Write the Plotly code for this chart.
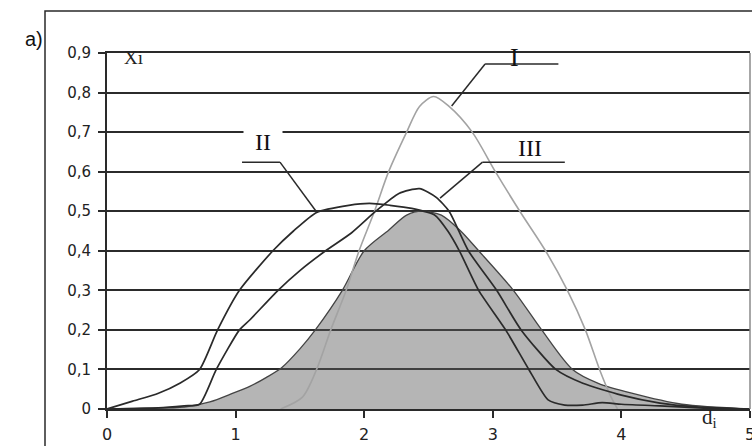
import plotly.graph_objects as go

# ---- data ----
x_ticks = [0, 1, 2, 3, 4, 5]
y_ticks = [0, 0.1, 0.2, 0.3, 0.4, 0.5, 0.6, 0.7, 0.8, 0.9]
y_ticktext = ["0", "0,1", "0,2", "0,3", "0,4", "0,5", "0,6", "0,7", "0,8", "0,9"]

fill_x = [0, 0.3, 0.6, 0.8, 0.98, 1.11, 1.24, 1.36, 1.5, 1.62, 1.83, 2.0, 2.19, 2.33, 2.45,
          2.6, 2.75, 2.89, 3.16, 3.38, 3.62, 3.82, 4.08, 4.47, 5.0]
fill_y = [0, 0.002, 0.005, 0.018, 0.04, 0.057, 0.08, 0.105, 0.152, 0.2, 0.3, 0.4, 0.452, 0.49, 0.50,
          0.49, 0.45, 0.40, 0.30, 0.20, 0.10, 0.065, 0.04, 0.012, 0]

c1_x = [1.35, 1.52, 1.63, 1.74, 1.86, 1.96, 2.08, 2.19, 2.33, 2.43, 2.54, 2.66, 2.84, 3.02, 3.21,
        3.41, 3.58, 3.72, 3.83, 3.92, 3.97]
c1_y = [0, 0.03, 0.1, 0.2, 0.3, 0.4, 0.5, 0.6, 0.7, 0.765, 0.79, 0.765, 0.7, 0.6, 0.5,
        0.40, 0.30, 0.2, 0.1, 0.03, 0]

c2_x = [0, 0.2, 0.4, 0.57, 0.72, 0.86, 1.03, 1.29, 1.45, 1.63, 1.88, 2.04, 2.2, 2.37, 2.55,
        2.65, 2.74, 2.89, 3.10, 3.28, 3.43, 3.56, 3.7, 3.85, 4.0, 4.3, 4.6, 5.0]
c2_y = [0, 0.02, 0.04, 0.066, 0.1, 0.2, 0.3, 0.4, 0.45, 0.497, 0.515, 0.52, 0.515, 0.507, 0.49,
        0.45, 0.40, 0.30, 0.20, 0.10, 0.023, 0.01, 0.01, 0.016, 0.012, 0.008, 0.003, 0]

c3_x = [0, 0.4, 0.6, 0.72, 0.85, 1.03, 1.11, 1.33, 1.5, 1.70, 1.9, 2.09, 2.27, 2.43, 2.56,
        2.66, 2.81, 3.03, 3.22, 3.49, 3.7, 4.0, 4.3, 4.6, 5.0]
c3_y = [0, 0.003, 0.008, 0.012, 0.1, 0.2, 0.225, 0.3, 0.35, 0.40, 0.445, 0.50, 0.545, 0.557, 0.535,
        0.50, 0.40, 0.30, 0.20, 0.10, 0.065, 0.035, 0.015, 0.005, 0]

DARK = "#2a2a2a"

fig = go.Figure()
fig.add_trace(go.Scatter(x=fill_x, y=fill_y, mode="lines", fill="tozeroy",
                         fillcolor="rgba(90,90,90,0.45)",
                         line=dict(color="#444444", width=1.3, shape="spline", smoothing=0.8)))
fig.add_trace(go.Scatter(x=c1_x, y=c1_y, mode="lines",
                         line=dict(color="#a3a3a3", width=1.6, shape="spline", smoothing=0.8)))
fig.add_trace(go.Scatter(x=c2_x, y=c2_y, mode="lines",
                         line=dict(color=DARK, width=1.7, shape="spline", smoothing=0.6)))
fig.add_trace(go.Scatter(x=c3_x, y=c3_y, mode="lines",
                         line=dict(color=DARK, width=1.7, shape="spline", smoothing=0.6)))

L, R, T, B = 107, 2, 53, 37
W, H = 752, 446
PW, PH = W - L - R, H - T - B


def px(xp):
    return (xp - L) / PW


def py(yp):
    return (H - B - yp) / PH


def dy(yp):
    return (H - B - yp) / PH * 0.9


fig.update_layout(
    width=W, height=H, margin=dict(l=L, r=R, t=T, b=B, autoexpand=False),
    plot_bgcolor="white", paper_bgcolor="white", showlegend=False,
    xaxis=dict(range=[0, 5], tickvals=x_ticks, ticks="outside", ticklen=7, tickwidth=1.5,
               tickcolor=DARK, showline=True, linecolor=DARK, linewidth=2, mirror=True,
               showgrid=False, zeroline=False, ticklabelstandoff=3, automargin=False,
               ticklabeloverflow="allow",
               tickfont=dict(family="DejaVu Sans", size=16, color="#222")),
    yaxis=dict(range=[0, 0.9], tickvals=y_ticks, ticktext=y_ticktext, ticks="outside",
               ticklen=7, tickwidth=1.5, tickcolor=DARK, showline=True, linecolor=DARK,
               linewidth=2, showgrid=True, gridcolor="#2b2b2b", gridwidth=2, zeroline=False,
               ticklabelstandoff=4, automargin=False,
               tickfont=dict(family="DejaVu Sans", size=15, color="#222")),
)

shapes = [
    dict(type="line", xref="paper", yref="paper", x0=1, x1=1, y0=0, y1=1,
         line=dict(color="#8a8a8a", width=1.5)),
    dict(type="rect", xref="paper", yref="paper", x0=px(45), x1=px(800), y0=py(500), y1=py(11),
         line=dict(color=DARK, width=1.5)),
    dict(type="line", x0=2.94, x1=3.51, y0=0.872, y1=0.872, line=dict(color=DARK, width=1.5)),
    dict(type="line", x0=2.94, x1=2.68, y0=0.872, y1=0.766, line=dict(color=DARK, width=1.5)),
    dict(type="line", x0=1.05, x1=1.345, y0=0.624, y1=0.624, line=dict(color=DARK, width=1.5)),
    dict(type="line", x0=1.345, x1=1.63, y0=0.624, y1=0.498, line=dict(color=DARK, width=1.5)),
    dict(type="line", x0=2.92, x1=3.56, y0=0.624, y1=0.624, line=dict(color=DARK, width=1.5)),
    dict(type="line", x0=2.92, x1=2.59, y0=0.624, y1=0.533, line=dict(color=DARK, width=1.5)),
]
fig.update_layout(shapes=shapes)

serif = "Liberation Serif"
ann = [
    dict(text="a)", xref="paper", yref="paper", x=px(23), y=py(26), showarrow=False,
         font=dict(family="Liberation Sans", size=20, color="#111")),
    dict(text="Xi", xref="paper", yref="paper", x=px(122), y=py(45), showarrow=False,
         font=dict(family=serif, size=19, color="#222")),
    dict(text="d<sub>i</sub>", xref="paper", yref="paper", x=px(719), y=py(433), showarrow=False,
         font=dict(family=serif, size=21, color="#222")),
    dict(text="I", x=3.17, y=dy(57), showarrow=False,
         font=dict(family=serif, size=26, color="#111")),
    dict(text="II", x=1.21, y=0.675, showarrow=False, bgcolor="white", width=36, height=28,
         font=dict(family=serif, size=24, color="#111")),
    dict(text="III", x=3.29, y=dy(148), showarrow=False,
         font=dict(family=serif, size=24, color="#111")),
]
fig.update_layout(annotations=ann)

fig.write_html("out.html")
